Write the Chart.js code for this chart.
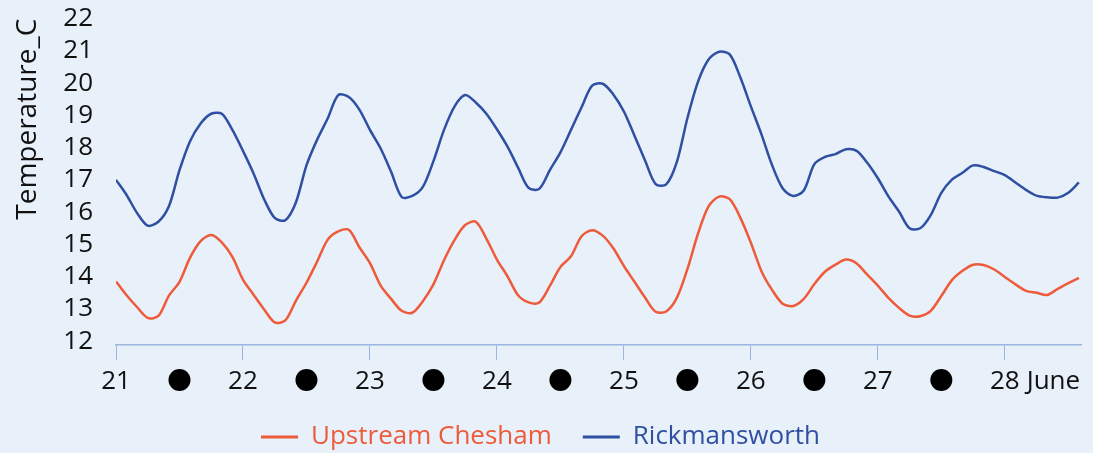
<!DOCTYPE html>
<html>
<head>
<meta charset="utf-8">
<script src="https://cdn.jsdelivr.net/npm/chart.js@4.4.1/dist/chart.umd.min.js"></script>
<style>
  html, body { margin: 0; padding: 0; background: #E8F0F9; }
  #wrap { width: 1093px; height: 453px; }
</style>
</head>
<body>
<div id="wrap"><canvas id="tempChart"></canvas></div>
<script>
// hours since 21 June 00:00, one reading every 2 hours
const hours = [
  0, 2, 4, 6, 8, 10, 12, 14, 16, 18, 20, 22,
  24, 26, 28, 30, 32, 34, 36, 38, 40, 42, 44, 46,
  48, 50, 52, 54, 56, 58, 60, 62, 64, 66, 68, 70,
  72, 74, 76, 78, 80, 82, 84, 86, 88, 90, 92, 94,
  96, 98, 100, 102, 104, 106, 108, 110, 112, 114, 116, 118,
  120, 122, 124, 126, 128, 130, 132, 134, 136, 138, 140, 142,
  144, 146, 148, 150, 152, 154, 156, 158, 160, 162, 164, 166,
  168, 170, 172, 174, 176, 178, 180, 182,
];

const chesham = [
  13.85, 13.42, 13.05, 12.72, 12.78, 13.41, 13.84, 14.59, 15.1, 15.29, 15.06, 14.61,
  13.91, 13.44, 12.98, 12.58, 12.64, 13.25, 13.81, 14.46, 15.14, 15.4, 15.45, 14.91,
  14.42, 13.73, 13.31, 12.94, 12.88, 13.24, 13.76, 14.51, 15.14, 15.6, 15.7, 15.18,
  14.53, 14.01, 13.42, 13.2, 13.2, 13.71, 14.3, 14.63, 15.25, 15.44, 15.27, 14.88,
  14.33, 13.84, 13.35, 12.91, 12.92, 13.34, 14.23, 15.33, 16.18, 16.48, 16.4, 15.83,
  15.05, 14.17, 13.59, 13.16, 13.09, 13.31, 13.77, 14.15, 14.37, 14.53, 14.41, 14.06,
  13.72, 13.34, 13.03, 12.79, 12.77, 12.94, 13.4, 13.89, 14.18, 14.37, 14.36, 14.22,
  13.99, 13.76, 13.56, 13.5, 13.43, 13.62, 13.8, 13.96,
];

const rickmansworth = [
  17.0, 16.53, 15.97, 15.58, 15.7, 16.18, 17.3, 18.2, 18.75, 19.05, 19.05, 18.55,
  17.9, 17.2, 16.4, 15.82, 15.75, 16.3, 17.45, 18.24, 18.9, 19.63, 19.57, 19.18,
  18.55, 17.98, 17.25, 16.47, 16.5, 16.78, 17.58, 18.55, 19.28, 19.63, 19.4, 19.05,
  18.57, 18.03, 17.38, 16.75, 16.72, 17.3, 17.85, 18.55, 19.25, 19.92, 19.98, 19.65,
  19.12, 18.37, 17.6, 16.87, 16.86, 17.55, 18.91, 20.04, 20.73, 20.97, 20.89, 20.18,
  19.28, 18.41, 17.46, 16.74, 16.5, 16.67, 17.49, 17.71, 17.8, 17.95, 17.9, 17.53,
  17.05, 16.49, 16.02, 15.5, 15.5, 15.91, 16.6, 17.01, 17.22, 17.45, 17.4, 17.27,
  17.15, 16.92, 16.69, 16.51, 16.46, 16.45, 16.6, 16.92,
];

const dayTicks = [0, 24, 48, 72, 96, 120, 144, 168];
const dayLabels = ['21', '22', '23', '24', '25', '26', '27', '28'];
const dotHours = [12, 36, 60, 84, 108, 132, 156];
const monthLabel = 'June';
const yTicks = [12, 13, 14, 15, 16, 17, 18, 19, 20, 21, 22];

const FONT = "'Open Sans', sans-serif";
const ORANGE = '#EE5B3B';
const BLUE = '#2F4FA2';
const AXIS = '#9DB6DF';

const toPoints = (vals) => vals.map((v, i) => ({ x: hours[i], y: v }));

// black dots between the day labels, and the month name after the last day
const nightMarks = {
  id: 'nightMarks',
  afterDraw(chart) {
    const xs = chart.scales.x;
    const ctx = chart.ctx;
    const y = chart.chartArea.bottom + 35;
    ctx.save();
    ctx.fillStyle = '#000';
    dotHours.forEach((h) => {
      ctx.beginPath();
      ctx.arc(xs.getPixelForValue(h), y, 11, 0, Math.PI * 2);
      ctx.fill();
    });
    ctx.font = '26px ' + FONT;
    ctx.fillStyle = '#111';
    ctx.textBaseline = 'middle';
    ctx.textAlign = 'left';
    const last = dayTicks[dayTicks.length - 1];
    const w = ctx.measureText(dayLabels[dayLabels.length - 1]).width;
    ctx.fillText(monthLabel, xs.getPixelForValue(last) + w / 2 + 7, y + 2);
    ctx.restore();
  },
};

const ctx = document.getElementById('tempChart').getContext('2d');

new Chart(ctx, {
  type: 'line',
  data: {
    datasets: [
      {
        label: 'Upstream Chesham',
        data: toPoints(chesham),
        borderColor: ORANGE,
        borderWidth: 2.5,
        pointRadius: 0,
        tension: 0.3,
      },
      {
        label: 'Rickmansworth',
        data: toPoints(rickmansworth),
        borderColor: BLUE,
        borderWidth: 2.5,
        pointRadius: 0,
        tension: 0.3,
      },
    ],
  },
  options: {
    responsive: true,
    maintainAspectRatio: false,
    animation: false,
    layout: { padding: { left: 0, right: 12, top: 0, bottom: -7 } },
    scales: {
      x: {
        type: 'linear',
        min: 0,
        max: 182.4,
        afterBuildTicks: (scale) => {
          scale.ticks = dayTicks.map((v) => ({ value: v }));
        },
        afterFit: (scale) => {
          scale.height = 48;
        },
        ticks: {
          autoSkip: false,
          maxRotation: 0,
          color: '#111',
          padding: 6,
          font: { family: FONT, size: 26 },
          callback: (v) => dayLabels[dayTicks.indexOf(v)],
        },
        grid: {
          drawOnChartArea: false,
          drawTicks: true,
          tickLength: 15,
          color: AXIS,
        },
        border: { color: AXIS, width: 1.5 },
      },
      y: {
        min: 11.88,
        max: 22,
        afterBuildTicks: (scale) => {
          scale.ticks = yTicks.map((v) => ({ value: v }));
        },
        afterFit: (scale) => {
          scale.width = 116;
        },
        ticks: {
          autoSkip: false,
          color: '#111',
          padding: 3,
          font: { family: FONT, size: 26 },
        },
        // hidden tick marks only keep the labels away from the plot
        grid: { display: false, drawTicks: true, tickLength: 20 },
        border: { display: false },
        title: {
          display: true,
          text: 'Temperature_C',
          align: 'end',
          color: '#111',
          font: { family: FONT, size: 28 },
          padding: { top: 11, bottom: 10 },
        },
      },
    },
    plugins: {
      legend: {
        position: 'bottom',
        labels: {
          boxWidth: 37,
          boxHeight: 3,
          padding: 31,
          font: { family: FONT, size: 26 },
          generateLabels: (chart) =>
            chart.data.datasets.map((ds, i) => ({
              text: ds.label,
              fillStyle: ds.borderColor,
              strokeStyle: ds.borderColor,
              fontColor: ds.borderColor,
              lineWidth: 0,
              datasetIndex: i,
            })),
        },
      },
      tooltip: { enabled: false },
    },
  },
  plugins: [nightMarks],
});
</script>
</body>
</html>
